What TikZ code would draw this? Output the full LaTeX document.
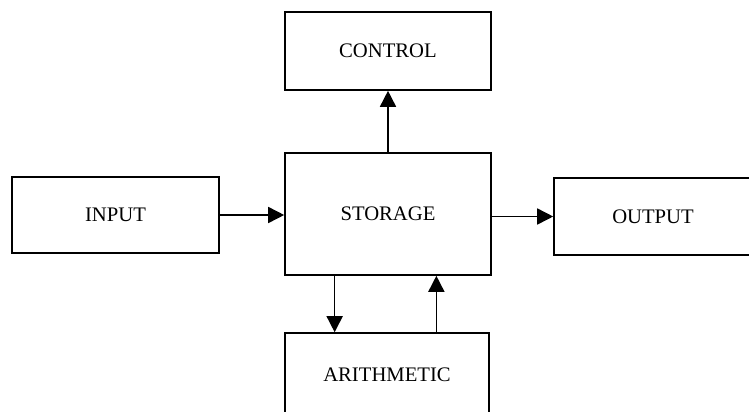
\documentclass[tikz,border=0pt]{standalone}
\usepackage{fontspec}
\setmainfont{Liberation Serif}
\usetikzlibrary{arrows.meta,calc}

\tikzset{
  unitbox/.style={draw,line width=1.2pt,inner sep=0pt,font=\fontsize{15.5}{17}\selectfont},
  flow/.style={line width=1.2pt,-{Triangle[length=12pt,width=12pt]}}
}

\begin{document}
\begin{tikzpicture}[x=0.75pt,y=0.75pt,yscale=-1,xscale=1]
\useasboundingbox (0,0) rectangle (749,411);
\clip (0,0) rectangle (749,411);

% Units
\node [unitbox,minimum width=154.5pt,minimum height=58.5pt] (control) at (388,51) {CONTROL};
\node [unitbox,minimum width=154.5pt,minimum height=91.5pt] (storage) at (388,214) {STORAGE};
\node [unitbox,minimum width=155.25pt,minimum height=57pt] (input) at (115.5,215) {INPUT};
\node [unitbox,minimum width=148.5pt,minimum height=57.75pt] (output) at (653,216.5) {OUTPUT};
\node [unitbox,minimum width=153pt,minimum height=62.25pt] (arithmetic) at (387,374.5) {ARITHMETIC};

% Connectors
\draw [flow] (storage.north) -- (control.south);
\draw [flow] (input.east) -- (storage.west |- input.east);
\draw [flow] (storage.east |- output.west) -- (output.west);
\coordinate (down) at ($(storage.south west)!0.243!(storage.south east)$);
\coordinate (up) at ($(storage.south west)!0.733!(storage.south east)$);
\draw [flow] (down) -- (down |- arithmetic.north);
\draw [flow] (up |- arithmetic.north) -- (up);

\end{tikzpicture}
\end{document}
